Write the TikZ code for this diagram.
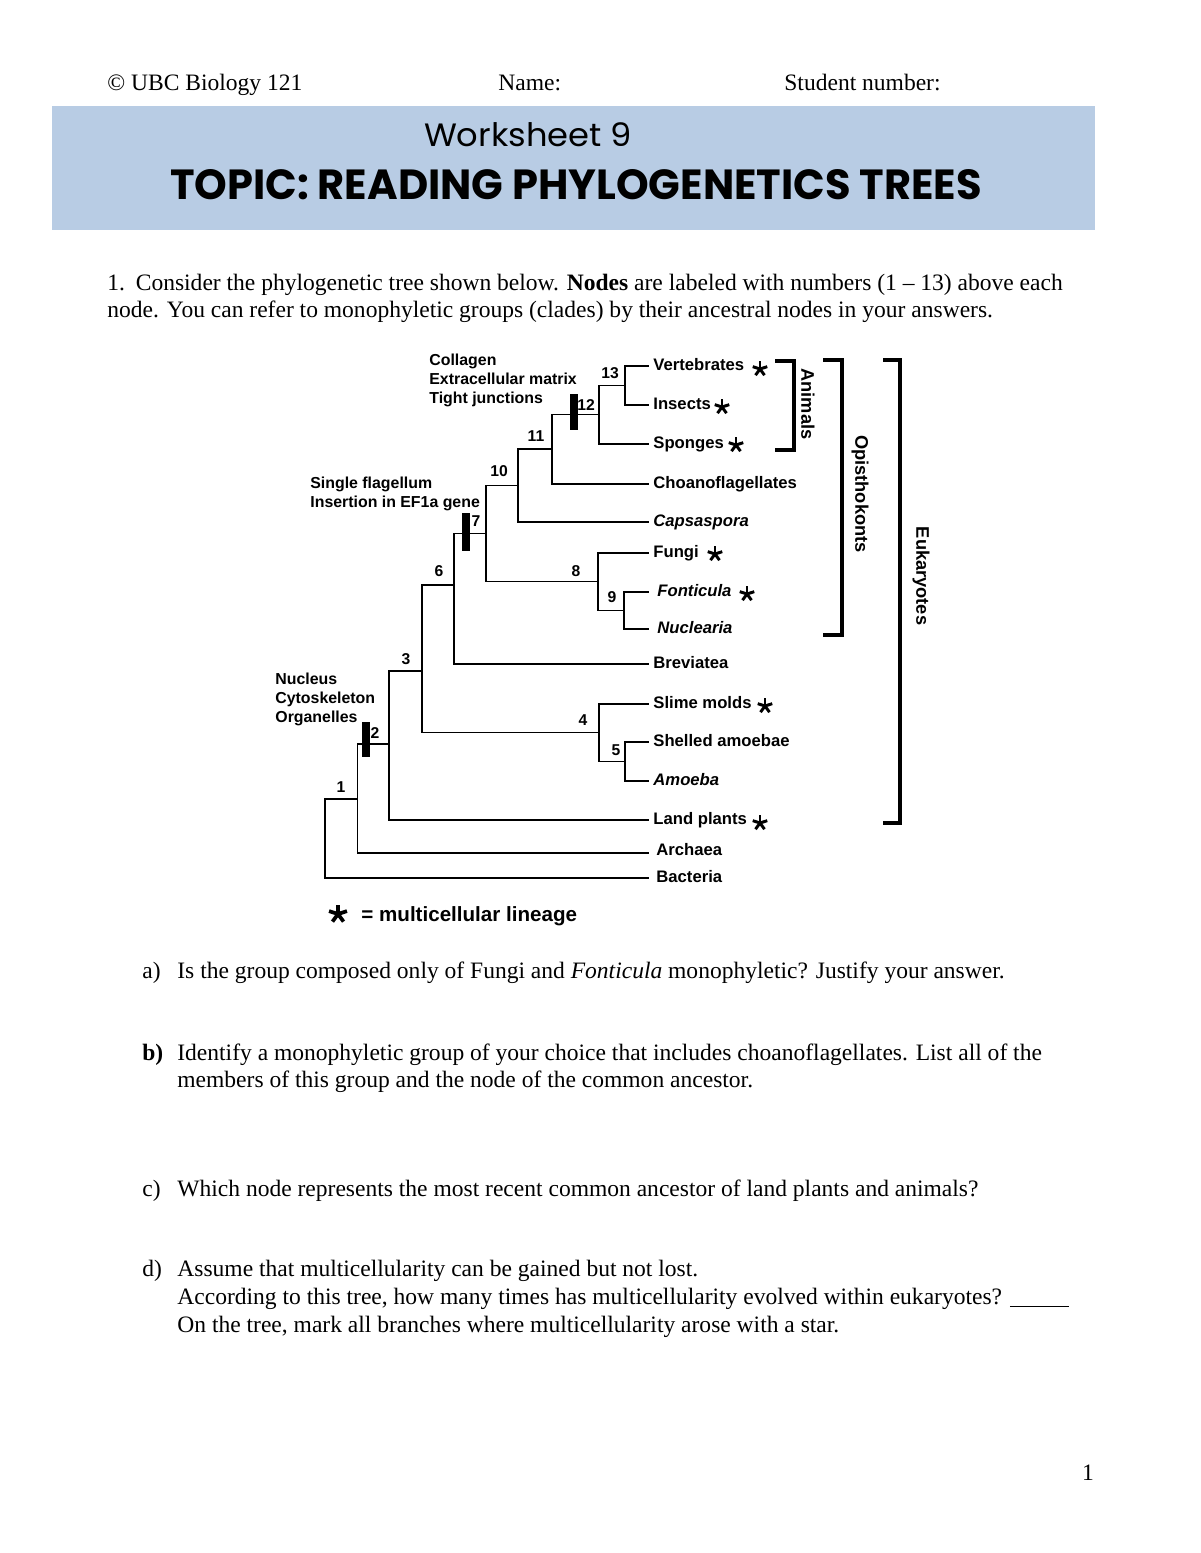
\documentclass[tikz,border=0pt]{standalone}
\usepackage{fontspec}
\usepackage{graphicx}
\setmainfont{Liberation Serif}
\newfontfamily\arialf{Liberation Sans}
\newfontfamily\gothf{Poppins}
\definecolor{hdrblue}{HTML}{B8CCE4}
\tikzset{
  branch/.style={line width=0.65pt},
  bar/.style={line width=3.6pt},
  brk/.style={line width=1.8pt},
  tip/.style={anchor=west, inner sep=0, font=\arialf\bfseries\fontsize{8.5}{10}\selectfont, text height=6.3pt, text depth=1.8pt},
  numlab/.style={inner sep=0, font=\arialf\bfseries\fontsize{8}{9}\selectfont},
  trait/.style={anchor=north west, align=left, inner sep=0, font=\arialf\bfseries\fontsize{8.1}{9.7}\selectfont},
  grouplab/.style={inner sep=0, rotate=-90, font=\arialf\bfseries\fontsize{9.3}{11}\selectfont},
  body/.style={anchor=base west, inner sep=0, font=\fontsize{12}{14}\selectfont},
  hdr/.style={anchor=base west, inner sep=0, font=\fontsize{12}{14}\selectfont},
  astk/.pic={\foreach \a in {90,162,234,306,18}{\draw[line width=1.5pt] (0,0) -- (\a:3.9pt);}},
  bigastk/.pic={\foreach \a in {90,162,234,306,18}{\draw[line width=1.9pt] (0,0) -- (\a:4.8pt);}}
}
\begin{document}
\begin{tikzpicture}[x=0.51pt,y=-0.51pt]
\useasboundingbox (0,0) rectangle (1200,1553);
\fill[white] (0,0) rectangle (1200,1553);

% ---------- header ----------
\node[hdr] (copy) at (107,91) {\textcopyright{} UBC Biology 121};
\node[hdr] (name) at (498,91) {Name:};
\node[hdr] (stud) at (784,91) {Student number:};
\fill[hdrblue] (52,106) rectangle (1095,230);
\node[inner sep=0] (ws) at (528,135) {\resizebox{106pt}{12.2pt}{\gothf Worksheet 9}};
\node[inner sep=0] (topic) at (576,185) {\resizebox{414pt}{15.3pt}{\gothf\bfseries TOPIC: READING PHYLOGENETICS TREES}};

% ---------- question 1 text ----------
\node[body] (q1a) at (107,290) {1.\hspace{5.5pt}Consider the phylogenetic tree shown below. \textbf{Nodes} are labeled with numbers (1 -- 13) above each};
\node[body] (q1b) at (107,317) {node. You can refer to monophyletic groups (clades) by their ancestral nodes in your answers.};

% ---------- tree: tips ----------
\foreach \nm/\yy in {Vert/366,Ins/405,Spon/444,Choa/484,Caps/522,Fung/553,Font/592,Nucl/629,Brev/664,Slim/704,Shel/742,Amoe/781,Land/820,Arch/853,Bact/878}
  {\coordinate (t\nm) at (649,\yy);}

\node[tip] (lVert) at (653,366) {Vertebrates};
\node[tip] (lIns)  at (653,405) {Insects};
\node[tip] (lSpon) at (653,444) {Sponges};
\node[tip] (lChoa) at (653,484) {Choanoflagellates};
\node[tip] (lCaps) at (653,522) {\itshape Capsaspora};
\node[tip] (lFung) at (653,553) {Fungi};
\node[tip] (lFont) at (657,592) {\itshape Fonticula};
\node[tip] (lNucl) at (657,629) {\itshape Nuclearia};
\node[tip] (lBrev) at (653,664) {Breviatea};
\node[tip] (lSlim) at (653,704) {Slime molds};
\node[tip] (lShel) at (653,742) {Shelled amoebae};
\node[tip] (lAmoe) at (653,781) {\itshape Amoeba};
\node[tip] (lLand) at (653,820) {Land plants};
\node[tip] (lArch) at (656,851) {Archaea};
\node[tip] (lBact) at (656,878) {Bacteria};

% stars
\pic at (760,369) {astk};
\pic at (722,407) {astk};
\pic at (736,445) {astk};
\pic at (715,554) {astk};
\pic at (747,594) {astk};
\pic at (765,706) {astk};
\pic at (760,823) {astk};

% ---------- tree: internal nodes ----------
\coordinate (c13) at (625,385.5);
\coordinate (c12) at (599,414.7);
\coordinate (c11) at (552,449);
\coordinate (c10) at (518,485.5);
\coordinate (c7)  at (486,533.5);
\coordinate (c8)  at (598,581.5);
\coordinate (c9)  at (624,610.5);
\coordinate (c6)  at (454,585);
\coordinate (c3)  at (422,671);
\coordinate (c4)  at (599,732.7);
\coordinate (c5)  at (625,761.5);
\coordinate (c2)  at (389,744);
\coordinate (cA)  at (357.5,799);
\coordinate (c1)  at (325,838);

\draw[branch] (c13) |- (tVert);
\draw[branch] (c13) |- (tIns);
\draw[branch] (c12) |- (c13);
\draw[branch] (c12) |- (tSpon);
\draw[branch] (c11) |- (c12);
\draw[branch] (c11) |- (tChoa);
\draw[branch] (c10) |- (c11);
\draw[branch] (c10) |- (tCaps);
\draw[branch] (c7) |- (c10);
\draw[branch] (c7) |- (c8);
\draw[branch] (c8) |- (tFung);
\draw[branch] (c8) |- (c9);
\draw[branch] (c9) |- (tFont);
\draw[branch] (c9) |- (tNucl);
\draw[branch] (c6) |- (c7);
\draw[branch] (c6) |- (tBrev);
\draw[branch] (c3) |- (c6);
\draw[branch] (c3) |- (c4);
\draw[branch] (c4) |- (tSlim);
\draw[branch] (c4) |- (c5);
\draw[branch] (c5) |- (tShel);
\draw[branch] (c5) |- (tAmoe);
\draw[branch] (c2) |- (c3);
\draw[branch] (c2) |- (tLand);
\draw[branch] (cA) |- (c2);
\draw[branch] (cA) |- (tArch);
\draw[branch] (c1) |- (cA);
\draw[branch] (c1) |- (tBact);

% character bars
\draw[bar] (574,394) -- (574,430);
\draw[bar] (466,513) -- (466,551);
\draw[bar] (366,722) -- (366,757);

% node numbers
\node[numlab] (n13) at (610,373) {13};
\node[numlab] (n12) at (586,405) {12};
\node[numlab] (n11) at (536,436) {11};
\node[numlab] (n10) at (499,471) {10};
\node[numlab] (n7)  at (476,521) {7};
\node[numlab] (n8)  at (576,571) {8};
\node[numlab] (n9)  at (612,597) {9};
\node[numlab] (n6)  at (439,571) {6};
\node[numlab] (n3)  at (406,659) {3};
\node[numlab] (n4)  at (583,720) {4};
\node[numlab] (n5)  at (616,750) {5};
\node[numlab] (n2)  at (375,733) {2};
\node[numlab] (n1)  at (341,787) {1};

% trait labels
\node[trait] (trA) at (429,354) {Collagen\\Extracellular matrix\\Tight junctions};
\node[trait] (trB) at (310,477) {Single flagellum\\Insertion in EF1a gene};
\node[trait] (trC) at (275,673) {Nucleus\\Cytoskeleton\\Organelles};

% brackets
\draw[brk] (775,361) -- (794,361) -- (794,450) -- (775,450);
\draw[brk] (823,360) -- (842,360) -- (842,635) -- (823,635);
\draw[brk] (883,360) -- (900,360) -- (900,823) -- (883,823);
\node[grouplab] (gAn) at (808,404) {Animals};
\node[grouplab] (gOp) at (860,494) {Opisthokonts};
\node[grouplab] (gEu) at (921,576) {Eukaryotes};

% legend
\pic at (338,914) {bigastk};
\node[anchor=west, inner sep=0, font=\arialf\bfseries\fontsize{10.5}{12}\selectfont] (leg) at (361,916) {= multicellular lineage};

% ---------- questions ----------
\node[body] (qa) at (142,978) {a)};
\node[body] (qat) at (177,978) {Is the group composed only of Fungi and \textit{Fonticula} monophyletic? Justify your answer.};
\node[body] (qb) at (142,1060) {\textbf{b)}};
\node[body] (qbt) at (177,1060) {Identify a monophyletic group of your choice that includes choanoflagellates. List all of the};
\node[body] (qbt2) at (177,1087) {members of this group and the node of the common ancestor.};
\node[body] (qc) at (142,1196) {c)};
\node[body] (qct) at (177,1196) {Which node represents the most recent common ancestor of land plants and animals?};
\node[body] (qd) at (142,1276) {d)};
\node[body] (qdt) at (177,1276) {Assume that multicellularity can be gained but not lost.};
\node[body] (qdt2) at (177,1304) {According to this tree, how many times has multicellularity evolved within eukaryotes? \underline{\hspace{30pt}}};
\node[body] (qdt3) at (177,1332) {On the tree, mark all branches where multicellularity arose with a star.};

\node[anchor=base, inner sep=0, font=\fontsize{12}{14}\selectfont] (pg) at (1088,1480) {1};
\end{tikzpicture}
\end{document}
